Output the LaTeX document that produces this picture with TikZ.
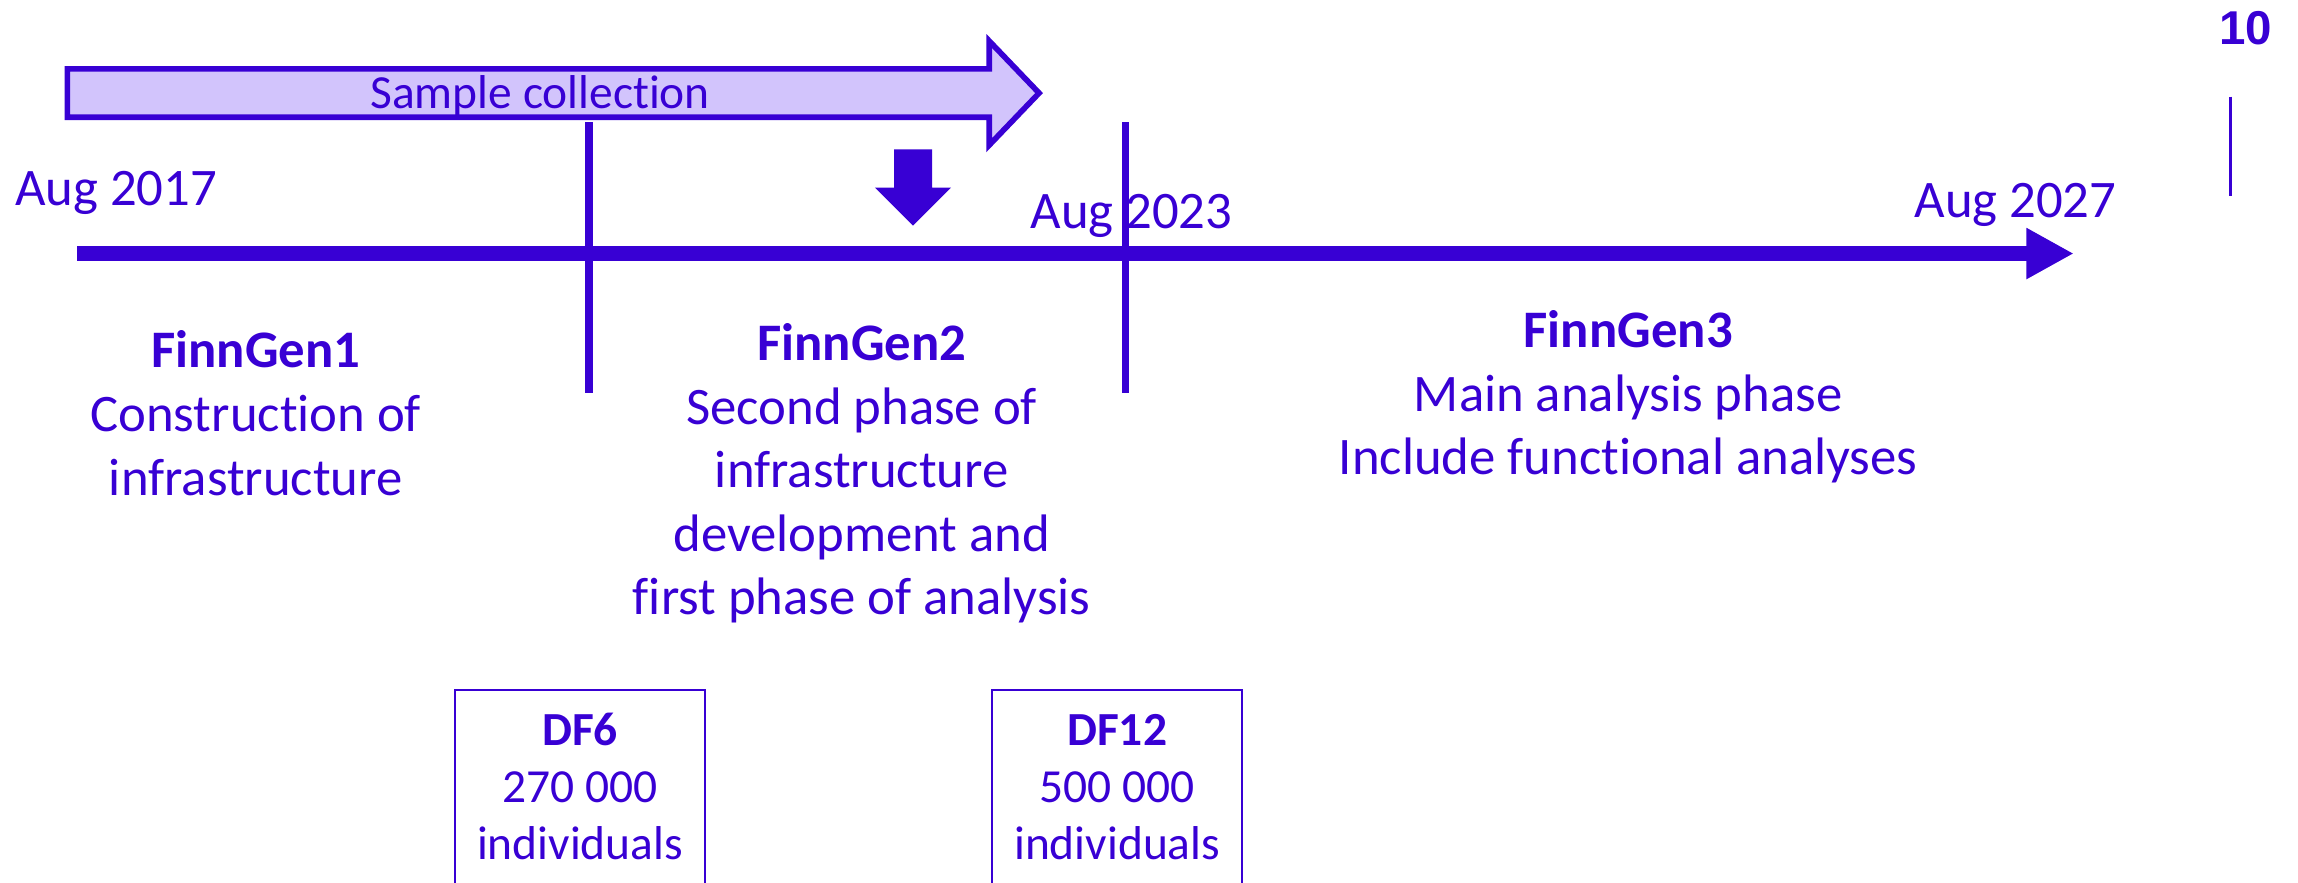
\documentclass[tikz,border=0pt]{standalone}
\usepackage{fontspec}
\setmainfont{Carlito}[Ligatures=NoCommon]
\newfontfamily\numfont{Liberation Sans}
\definecolor{FGblue}{RGB}{56,0,212}
\definecolor{FGlilac}{RGB}{210,196,252}
\usetikzlibrary{arrows.meta}
\tikzset{
	>={Triangle[length=0.473cm,width=0.478cm]},
	timeline/.style={draw=FGblue, line width=4.3pt, ->},
	divider/.style={draw=FGblue, line width=2.1pt},
	collect/.style={draw=FGblue, fill=FGlilac, line width=1.6pt},
	dfframe/.style={draw=FGblue, line width=0.6pt},
	datelabel/.style={
		text=FGblue,
		anchor=base,
		inner sep=0pt,
		font=\fontsize{15}{18}\selectfont},
	phase/.style={
		datelabel,
		align=center,
		font=\fontsize{15}{18.1}\selectfont},
	dftext/.style={
		datelabel,
		align=center,
		font=\fontsize{13.5}{16.3}\selectfont},
	pagenum/.style={
		datelabel,
		font=\numfont\bfseries\fontsize{13.5}{16}\selectfont},
}

\begin{document}
\begin{tikzpicture}[x=0.014656cm, y=-0.014656cm]
\useasboundingbox (0,0) rectangle (1568,602);

% sample collection arrow
\draw[collect] (46,47) -- (675,47) -- (675,28) -- (709,63.5) -- (675,99)
	-- (675,80) -- (46,80) -- cycle;
\node[datelabel, font=\fontsize{13.5}{16}\selectfont] (sample) at (368.6,73.9) {Sample collection};

% time axis and phase borders
\coordinate (t0) at (52.6,173);
\coordinate (t1) at (1415,173);
\draw[timeline] (t0) -- (t1);
\foreach \x in {402,768}
	\draw[divider] (\x,83.5) -- (\x,268);

% down arrow
\fill[FGblue] (610,102) -- (636,102) -- (636,128) -- (649,128) -- (623,154)
	-- (597,128) -- (610,128) -- cycle;

% dates
\node[datelabel] (aug17) at (79.3,140) {Aug 2017};
\node[datelabel] (aug23) at (772,155.8) {Aug 2023};
\node[datelabel] (aug27) at (1375.2,148.3) {Aug 2027};

% phases (base = last line)
\node[phase] (fg1) at (174.5,337.8) {\textbf{FinnGen1}\\Construction of\\infrastructure};
\node[phase] (fg2) at (588,419.6) {\textbf{FinnGen2}\\Second phase of\\infrastructure\\development and\\first phase of analysis};
\node[phase] (fg3) at (1111,324) {\textbf{FinnGen3}\\Main analysis phase\\Include functional analyses};

% data freezes
\draw[dfframe] (310.5,615) |- (481,470.8) -- (481,615);
\draw[dfframe] (677,615) |- (847.6,470.8) -- (847.6,615);
\node[dftext] (df6) at (395.8,586.8) {\textbf{DF6}\\270 000\\individuals};
\node[dftext] (df12) at (762.3,586.8) {\textbf{DF12}\\500 000\\individuals};

% page number
\node[pagenum] (pnum) at (1532.5,30.7) {10};
\draw[FGblue, line width=0.75pt] (1522,66) -- (1522,133.5);
\end{tikzpicture}
\end{document}
